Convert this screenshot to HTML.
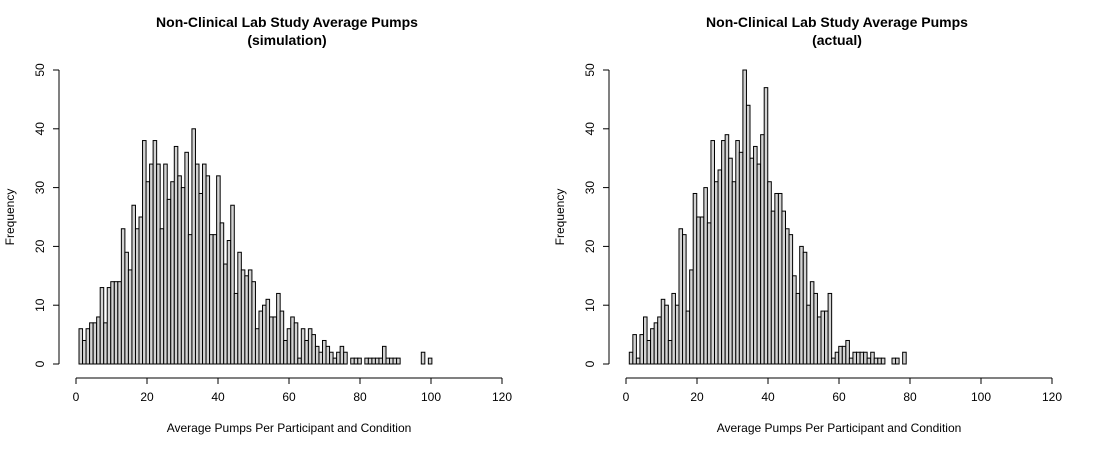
<!DOCTYPE html>
<html><head><meta charset="utf-8"><style>
html,body{margin:0;padding:0;background:#fff;}
svg{display:block;font-family:"Liberation Sans",Arial,sans-serif;}
</style></head><body>
<svg id="chart" width="1100" height="450" xmlns="http://www.w3.org/2000/svg"></svg>
<script>
const simCounts = [6,4,6,7,7,8,13,7,13,14,14,14,23,19,16,27,23,25,38,31,34,38,34,23,34,28,31,37,32,30,36,22,40,34,29,34,32,22,22,32,24,17,21,27,12,19,
16,15,16,14,6,9,10,11,8,8,12,9,4,6,8,7,1,6,4,6,5,3,2,4,3,2,1,2,3,2,0,1,1,1,0,1,1,1,1,1,3,1,1,1,1,0,0,0,0,0,0,2,0,1];
const actCounts = [2,5,1,5,8,4,6,7,8,11,10,4,12,10,23,22,9,16,29,25,25,30,24,38,31,33,38,39,35,31,38,36,50,44,35,37,34,39,47,31,26,29,29,26,23,22,15,12,20,19,10,14,12,8,9,9,12,1,2,3,3,4,1,2,2,2,2,1,2,1,1,1,0,0,1,1,0,2];
const simBinStart = 0.85, simBinWidth = 0.994;
const actBinStart = 0.93, actBinWidth = 1.0;
const xTicks = [0,20,40,60,80,100,120];
const yTicks = [0,10,20,30,40,50];

const svg = document.getElementById('chart');
const NS = 'http://www.w3.org/2000/svg';
function mk(tag, attrs, parent){const e=document.createElementNS(NS,tag);for(const k in attrs)e.setAttribute(k,attrs[k]);(parent||svg).appendChild(e);return e;}

function panel(cfg){
  const g = mk('g',{});
  
  
  const x0=cfg.x0, x1=cfg.x0+426, yBase=364, yTop=70;
  const xs = v => x0 + (v/120)*(x1-x0);
  const ys = v => yBase - (v/50)*(yBase-yTop);
  // bars
  const bars = mk('g',{},g);
  
  
  cfg.counts.forEach((c,i)=>{
    if(c<=0) return;
    const a = xs(cfg.start + i*cfg.width), b = xs(cfg.start + (i+1)*cfg.width);
    const r = mk('rect',{x:a,y:ys(c),width:b-a,height:ys(0)-ys(c),fill:'#d3d3d3',stroke:'#000','stroke-width':1},bars);
    
    
  });
  // x axis
  const xa = mk('g',{},g);
  
  
  mk('line',{x1:xs(0),x2:xs(120),y1:378,y2:378,stroke:'#000'},xa);
  xTicks.forEach(t=>{
    mk('line',{x1:xs(t),x2:xs(t),y1:378,y2:384,stroke:'#000'},xa);
    const tx = mk('text',{x:xs(t),y:401,'font-size':12,'text-anchor':'middle'},xa);
    tx.textContent=t;
    
    
  });
  // y axis
  const ya = mk('g',{},g);
  
  
  const ax = x0-17;
  mk('line',{x1:ax,x2:ax,y1:ys(0),y2:ys(50),stroke:'#000'},ya);
  yTicks.forEach(t=>{
    mk('line',{x1:ax,x2:ax-6,y1:ys(t),y2:ys(t),stroke:'#000'},ya);
    const tx = mk('text',{x:0,y:0,'font-size':12,'text-anchor':'middle',transform:`translate(${ax-15},${ys(t)}) rotate(-90)`},ya);
    tx.textContent=t;
    
    
  });
  const yl = mk('text',{x:0,y:0,'font-size':12,'text-anchor':'middle',transform:`translate(${ax-45},217) rotate(-90)`},g);
  yl.textContent='Frequency';
  
  
  const xl = mk('text',{x:xs(0)+213,y:432,'font-size':12,'text-anchor':'middle'},g);
  xl.textContent='Average Pumps Per Participant and Condition';
  
  
  const t1 = mk('text',{x:xs(0)+211,y:27,'font-size':14,'font-weight':'bold','text-anchor':'middle'},g);
  t1.textContent=cfg.title;
  
  
  const t2 = mk('text',{x:xs(0)+211,y:45,'font-size':14,'font-weight':'bold','text-anchor':'middle'},g);
  t2.textContent=cfg.sub;
  
  
}
panel({name:'simulation-panel',x0:76,counts:simCounts,start:simBinStart,width:simBinWidth,title:'Non-Clinical Lab Study Average Pumps',sub:'(simulation)'});
panel({name:'actual-panel',x0:626,counts:actCounts,start:actBinStart,width:actBinWidth,title:'Non-Clinical  Lab Study Average Pumps',sub:'(actual)'});
</script>
</body></html>
